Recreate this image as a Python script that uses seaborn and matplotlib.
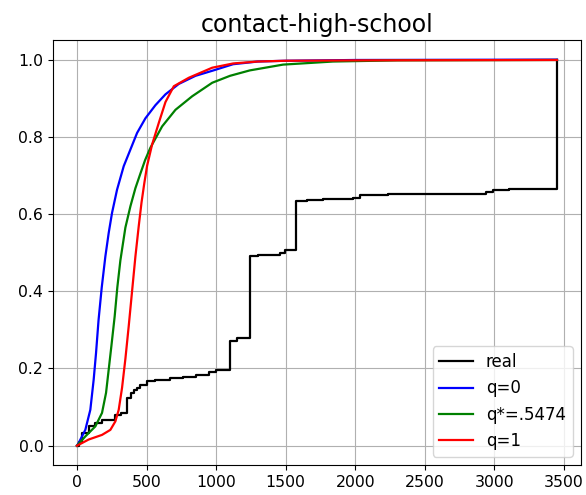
import numpy as np
import pandas as pd
import matplotlib
matplotlib.use("Agg")
import matplotlib.pyplot as plt
import seaborn as sns

# values
real_x = [0, 12, 36, 84, 130, 180, 276, 320, 360, 385, 408, 430, 456, 504, 564, 666, 760,
          857, 950, 1000, 1098, 1150, 1242, 1300, 1457, 1493, 1577, 1650, 1768, 1984, 2032,
          2235, 2940, 2990, 3108, 3450]
real_y = [0.0, 0.01, 0.033, 0.05, 0.059, 0.067, 0.08, 0.085, 0.123, 0.137, 0.145, 0.149,
          0.158, 0.167, 0.171, 0.175, 0.179, 0.184, 0.19, 0.197, 0.272, 0.278, 0.492, 0.495,
          0.5, 0.506, 0.634, 0.637, 0.64, 0.642, 0.65, 0.653, 0.658, 0.661, 0.664, 1.0]

q0_x = [0, 12, 60, 96, 120, 137, 155, 178, 204, 228, 252, 288, 336, 384, 432, 492, 564,
        636, 732, 852, 972, 1122, 1300, 1500, 2000, 3450]
q0_y = [0.0, 0.007, 0.041, 0.093, 0.171, 0.24, 0.325, 0.41, 0.49, 0.551, 0.603, 0.663,
        0.724, 0.767, 0.81, 0.848, 0.882, 0.91, 0.937, 0.958, 0.971, 0.988, 0.995, 0.997,
        0.999, 1.0]

qs_x = [0, 60, 132, 180, 209, 228, 247, 271, 290, 312, 348, 384, 420, 456, 490, 528, 612,
        708, 828, 972, 1100, 1242, 1481, 1840, 2300, 3450]
qs_y = [0.0, 0.024, 0.05, 0.085, 0.137, 0.197, 0.257, 0.335, 0.41, 0.48, 0.565, 0.62,
        0.667, 0.705, 0.74, 0.772, 0.827, 0.87, 0.905, 0.94, 0.958, 0.972, 0.987, 0.995,
        0.998, 0.999]

q1_x = [0, 84, 180, 240, 276, 300, 324, 348, 372, 396, 420, 444, 464, 484, 504, 540, 588,
        636, 696, 804, 972, 1122, 1300, 1500, 2000, 3450]
q1_y = [0.0, 0.016, 0.028, 0.041, 0.063, 0.093, 0.15, 0.225, 0.31, 0.40, 0.49, 0.569,
        0.63, 0.68, 0.725, 0.78, 0.836, 0.89, 0.931, 0.953, 0.979, 0.99, 0.995, 0.997,
        0.998, 0.999]

fig = plt.figure(figsize=(5.86, 4.95), dpi=100)
ax = fig.add_axes([0.0904, 0.0606, 0.901, 0.858])

sns.lineplot(x=real_x, y=real_y, ax=ax, color='k', lw=1.6, drawstyle='steps-post',
             label='real', estimator=None)
sns.lineplot(x=q0_x, y=q0_y, ax=ax, color='b', lw=1.6, label='q=0', estimator=None)
sns.lineplot(x=qs_x, y=qs_y, ax=ax, color='g', lw=1.6, label='q*=.5474', estimator=None)
sns.lineplot(x=q1_x, y=q1_y, ax=ax, color='r', lw=1.6, label='q=1', estimator=None)

ax.set_xlim(-172.5, 3622.5)
ax.set_ylim(-0.05, 1.05)
ax.set_xticks([0, 500, 1000, 1500, 2000, 2500, 3000, 3500])
ax.set_yticks([0.0, 0.2, 0.4, 0.6, 0.8, 1.0])
ax.tick_params(labelsize=11.3)
ax.grid(True, color='#b0b0b0', lw=0.8)
ax.set_title('contact-high-school', fontsize=17)
ax.legend(loc='lower right', fontsize=12)

fig.savefig('out.png', dpi=100)
